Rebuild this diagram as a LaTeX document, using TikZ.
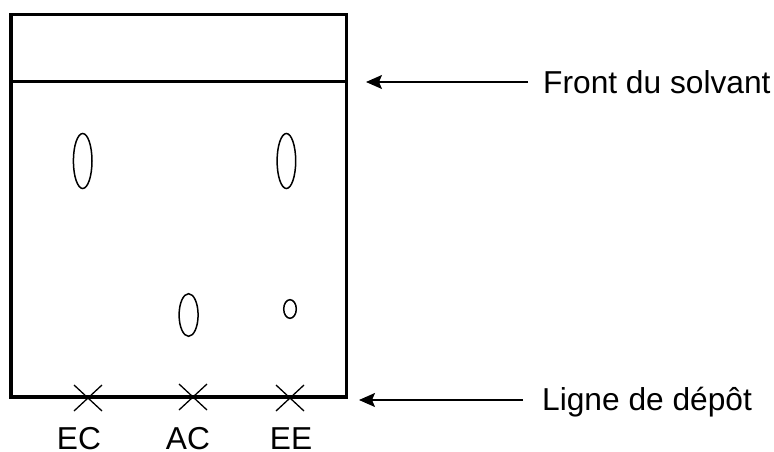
\documentclass[tikz,border=0pt]{standalone}
\usepackage{fontspec}
\setmainfont{Liberation Sans}
\usetikzlibrary{arrows.meta}
\begin{document}
\begin{tikzpicture}[x=1pt,y=-1pt,
  plate/.style={line width=3.3pt},
  spot/.style={line width=1.5pt},
  crossmark/.style={line width=1.3pt},
  arr/.style={line width=1.5pt,-{Stealth[length=16pt,width=14pt,inset=3pt]}},
  lbl/.style={font=\fontsize{31.7}{38}\selectfont,inner sep=0pt}]
\useasboundingbox (0,0) rectangle (774,452);
% plate
\draw[plate] (11,14.3) rectangle (346.5,397);
\draw[plate] (11,81.7) -- (346.5,81.7);
% spots
\draw[spot] (82.7,161) ellipse [x radius=9.3pt, y radius=27.5pt];
\draw[spot] (286.4,161) ellipse [x radius=9.3pt, y radius=27.5pt];
\draw[spot] (188.6,315) ellipse [x radius=9.5pt, y radius=21.3pt];
\draw[spot] (290,309) ellipse [x radius=6.3pt, y radius=9.3pt];
% crosses
\foreach \cx/\cy in {88/398,193/397,290/398}{
  \draw[crossmark] (\cx-14,\cy-13) -- (\cx+14,\cy+13);
  \draw[crossmark] (\cx-14,\cy+13) -- (\cx+14,\cy-13);
}
% labels under
\node[lbl,anchor=base] (ec) at (79,449.5) {EC};
\node[lbl,anchor=base] (ac) at (188,449.5) {AC};
\node[lbl,anchor=base] (ee) at (291,449.5) {EE};
% right labels and arrows
\node[lbl,anchor=base west] (front) at (543,93.2) {Front du solvant};
\node[lbl,anchor=base west] (ligne) at (542,410.5) {Ligne de dépôt};
\coordinate (ftail) at (528,82);
\coordinate (ftip) at (366,82);
\coordinate (ltail) at (523,400);
\coordinate (ltip) at (359,400);
\draw[arr] (ftail) -- (ftip);
\draw[arr] (ltail) -- (ltip);
\end{tikzpicture}
\end{document}
